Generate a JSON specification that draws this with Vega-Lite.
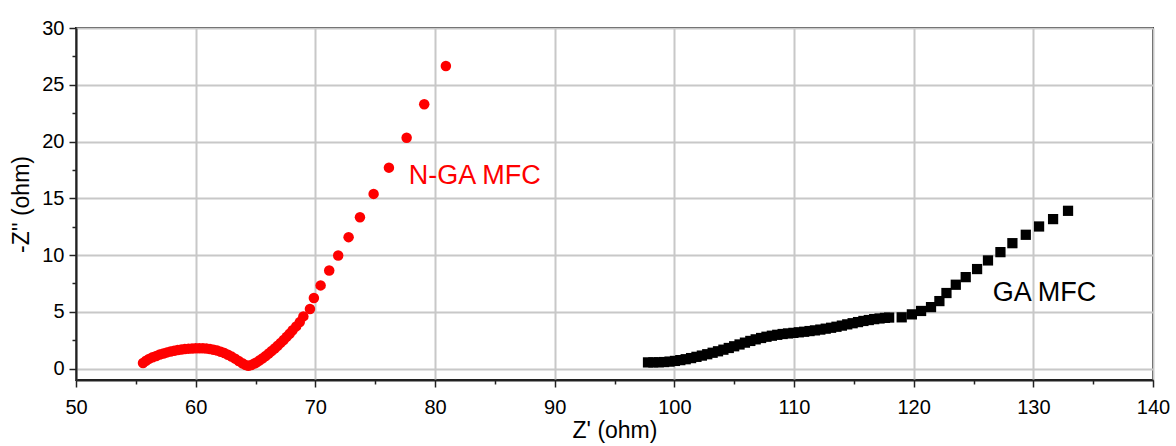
{
  "$schema": "https://vega.github.io/schema/vega-lite/v6.json",
  "width": 1077,
  "height": 352,
  "autosize": {"type": "none"},
  "padding": {"left": 76, "top": 28, "right": 23, "bottom": 66},
  "background": "white",
  "config": {
    "font": "Liberation Sans",
    "view": {"stroke": "#222222", "strokeWidth": 2},
    "axis": {
      "labelFont": "Liberation Sans",
      "titleFont": "Liberation Sans",
      "labelFontSize": 20,
      "titleFontSize": 23,
      "titleFontWeight": "normal",
      "labelColor": "#000000",
      "titleColor": "#000000",
      "domainColor": "#222222",
      "domainWidth": 2,
      "tickColor": "#222222",
      "tickWidth": 1.5,
      "gridColor": "#c8c8c8",
      "gridWidth": 2
    }
  },
  "datasets": {
    "nga": [
      {"zr": 55.6, "zi": 0.5}, {"zr": 55.85, "zi": 0.7}, {"zr": 56.1, "zi": 0.86}, {"zr": 56.4, "zi": 1.0},
      {"zr": 56.7, "zi": 1.12}, {"zr": 57.0, "zi": 1.24}, {"zr": 57.3, "zi": 1.34}, {"zr": 57.6, "zi": 1.43},
      {"zr": 57.9, "zi": 1.51}, {"zr": 58.2, "zi": 1.58}, {"zr": 58.5, "zi": 1.64}, {"zr": 58.8, "zi": 1.69},
      {"zr": 59.1, "zi": 1.73}, {"zr": 59.4, "zi": 1.76}, {"zr": 59.7, "zi": 1.78}, {"zr": 60.0, "zi": 1.8},
      {"zr": 60.3, "zi": 1.8}, {"zr": 60.6, "zi": 1.79}, {"zr": 60.9, "zi": 1.77}, {"zr": 61.2, "zi": 1.73},
      {"zr": 61.5, "zi": 1.67}, {"zr": 61.8, "zi": 1.59}, {"zr": 62.1, "zi": 1.49}, {"zr": 62.4, "zi": 1.37},
      {"zr": 62.7, "zi": 1.22}, {"zr": 63.0, "zi": 1.06}, {"zr": 63.3, "zi": 0.88}, {"zr": 63.6, "zi": 0.68},
      {"zr": 63.9, "zi": 0.48}, {"zr": 64.15, "zi": 0.33}, {"zr": 64.4, "zi": 0.26}, {"zr": 64.65, "zi": 0.32},
      {"zr": 64.9, "zi": 0.45}, {"zr": 65.1, "zi": 0.55}, {"zr": 65.35, "zi": 0.74}, {"zr": 65.6, "zi": 0.92},
      {"zr": 65.85, "zi": 1.12}, {"zr": 66.1, "zi": 1.33}, {"zr": 66.35, "zi": 1.55}, {"zr": 66.6, "zi": 1.78},
      {"zr": 66.85, "zi": 2.02}, {"zr": 67.1, "zi": 2.27}, {"zr": 67.35, "zi": 2.53}, {"zr": 67.6, "zi": 2.8},
      {"zr": 67.85, "zi": 3.08}, {"zr": 68.1, "zi": 3.38}, {"zr": 68.4, "zi": 3.72}, {"zr": 68.7, "zi": 4.1},
      {"zr": 69.0, "zi": 4.6}, {"zr": 69.55, "zi": 5.25}, {"zr": 69.88, "zi": 6.22}, {"zr": 70.44, "zi": 7.33},
      {"zr": 71.16, "zi": 8.65}, {"zr": 71.91, "zi": 9.97}, {"zr": 72.78, "zi": 11.58}, {"zr": 73.73, "zi": 13.34},
      {"zr": 74.87, "zi": 15.39}, {"zr": 76.15, "zi": 17.7}, {"zr": 77.63, "zi": 20.34}, {"zr": 79.1, "zi": 23.28},
      {"zr": 80.91, "zi": 26.65}
    ],
    "ga": [
      {"zr": 97.8, "zi": 0.55}, {"zr": 98.25, "zi": 0.55}, {"zr": 98.7, "zi": 0.56}, {"zr": 99.15, "zi": 0.58},
      {"zr": 99.6, "zi": 0.62}, {"zr": 100.05, "zi": 0.68}, {"zr": 100.5, "zi": 0.75}, {"zr": 100.95, "zi": 0.83},
      {"zr": 101.4, "zi": 0.93}, {"zr": 101.85, "zi": 1.04}, {"zr": 102.3, "zi": 1.15}, {"zr": 102.75, "zi": 1.27},
      {"zr": 103.2, "zi": 1.4}, {"zr": 103.65, "zi": 1.53}, {"zr": 104.1, "zi": 1.67}, {"zr": 104.55, "zi": 1.82},
      {"zr": 105.0, "zi": 1.97}, {"zr": 105.45, "zi": 2.13}, {"zr": 105.9, "zi": 2.29}, {"zr": 106.35, "zi": 2.44},
      {"zr": 106.8, "zi": 2.58}, {"zr": 107.25, "zi": 2.7}, {"zr": 107.7, "zi": 2.81}, {"zr": 108.15, "zi": 2.9},
      {"zr": 108.6, "zi": 2.98}, {"zr": 109.05, "zi": 3.05}, {"zr": 109.5, "zi": 3.1}, {"zr": 109.95, "zi": 3.15},
      {"zr": 110.4, "zi": 3.2}, {"zr": 110.85, "zi": 3.25}, {"zr": 111.3, "zi": 3.31}, {"zr": 111.75, "zi": 3.37},
      {"zr": 112.2, "zi": 3.44}, {"zr": 112.65, "zi": 3.52}, {"zr": 113.1, "zi": 3.6}, {"zr": 113.55, "zi": 3.69},
      {"zr": 114.0, "zi": 3.79}, {"zr": 114.45, "zi": 3.9}, {"zr": 114.9, "zi": 4.0}, {"zr": 115.35, "zi": 4.1},
      {"zr": 115.8, "zi": 4.2}, {"zr": 116.25, "zi": 4.28}, {"zr": 116.7, "zi": 4.36}, {"zr": 117.15, "zi": 4.42},
      {"zr": 117.6, "zi": 4.47}, {"zr": 117.95, "zi": 4.5}, {"zr": 119.0, "zi": 4.52}, {"zr": 119.85, "zi": 4.78},
      {"zr": 120.62, "zi": 5.08}, {"zr": 121.45, "zi": 5.42}, {"zr": 122.15, "zi": 5.95}, {"zr": 122.74, "zi": 6.66},
      {"zr": 123.52, "zi": 7.39}, {"zr": 124.35, "zi": 8.06}, {"zr": 125.3, "zi": 8.77}, {"zr": 126.21, "zi": 9.53},
      {"zr": 127.25, "zi": 10.26}, {"zr": 128.25, "zi": 11.05}, {"zr": 129.37, "zi": 11.79}, {"zr": 130.48, "zi": 12.52},
      {"zr": 131.65, "zi": 13.17}, {"zr": 132.9, "zi": 13.9}
    ],
    "labels": [
      {"zr": 77.8, "zi": 17.0, "label": "N-GA MFC", "series": "N-GA MFC"},
      {"zr": 126.6, "zi": 6.66, "label": "GA MFC", "series": "GA MFC"}
    ]
  },
  "encoding": {
    "x": {
      "field": "zr", "type": "quantitative",
      "scale": {"domain": [50, 140], "nice": false, "zero": false},
      "axis": {
        "title": "Z' (ohm)",
        "values": [50, 55, 60, 65, 70, 75, 80, 85, 90, 95, 100, 105, 110, 115, 120, 125, 130, 135, 140],
        "labelExpr": "datum.value % 10 === 0 ? datum.label : ''",
        "gridOpacity": {"condition": {"test": "datum.value % 10 !== 0", "value": 0}, "value": 1},
        "tickSize": {"condition": {"test": "datum.value % 10 !== 0", "value": 4}, "value": 7},
        "labelPadding": 10,
        "titlePadding": 2,
        "labelFlush": false
      }
    },
    "y": {
      "field": "zi", "type": "quantitative",
      "scale": {"domain": [-1, 30], "nice": false, "zero": false},
      "axis": {
        "title": "-Z'' (ohm)",
        "values": [0, 2.5, 5, 7.5, 10, 12.5, 15, 17.5, 20, 22.5, 25, 27.5, 30],
        "labelExpr": "datum.value % 5 === 0 ? datum.label : ''",
        "gridOpacity": {"condition": {"test": "datum.value % 5 !== 0", "value": 0}, "value": 1},
        "tickSize": {"condition": {"test": "datum.value % 5 !== 0", "value": 4}, "value": 7},
        "labelPadding": 5,
        "titlePadding": 8,
        "labelFlush": false
      }
    }
  },
  "layer": [
    {
      "data": {"name": "nga"},
      "mark": {"type": "point", "shape": "circle", "filled": true, "size": 110, "color": "#fe0000", "opacity": 1}
    },
    {
      "data": {"name": "ga"},
      "mark": {"type": "point", "shape": "square", "filled": true, "size": 105, "color": "#000000", "opacity": 1}
    },
    {
      "data": {"name": "labels"},
      "mark": {"type": "text", "align": "left", "baseline": "middle", "fontSize": 27, "font": "Liberation Sans"},
      "encoding": {
        "text": {"field": "label"},
        "color": {"field": "series", "type": "nominal", "scale": {"domain": ["N-GA MFC", "GA MFC"], "range": ["#fe0000", "#000000"]}, "legend": null}
      }
    }
  ]
}
